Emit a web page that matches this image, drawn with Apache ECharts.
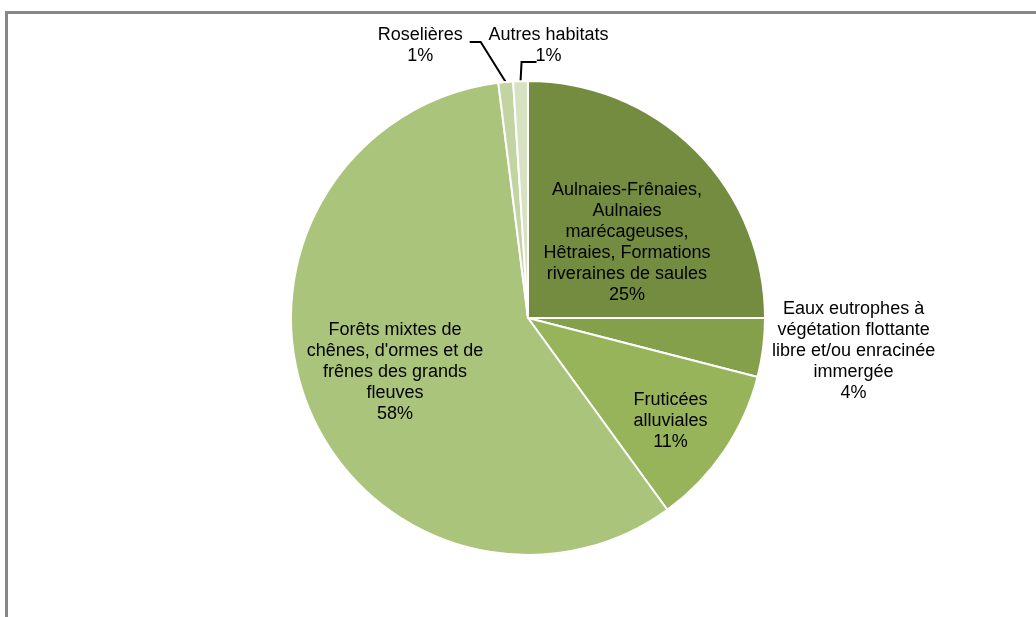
<!DOCTYPE html>
<html lang="fr">
<head>
<meta charset="utf-8">
<title>Répartition des habitats</title>
<script src="https://cdn.jsdelivr.net/npm/echarts@6/dist/echarts.min.js"></script>
<style>
  html, body { margin: 0; padding: 0; background: #ffffff; }
  #chart { width: 1036px; height: 617px; }
</style>
</head>
<body>
<div id="chart"></div>
<script>
// Habitat categories, in clockwise order from 12 o'clock
const habitats = [
  'Aulnaies-Frênaies,\nAulnaies\nmarécageuses,\nHêtraies, Formations\nriveraines de saules',
  'Eaux eutrophes à\nvégétation flottante\nlibre et/ou enracinée\nimmergée',
  'Fruticées\nalluviales',
  'Forêts mixtes de\nchênes, d\'ormes et de\nfrênes des grands\nfleuves',
  'Roselières',
  'Autres habitats'
];
// Share of each habitat (%)
const shares = [25, 4, 11, 58, 1, 1];
const sliceColors = ['#738C40', '#85A04B', '#98B45A', '#ABC47C', '#C2D4A2', '#D6E2C2'];

const chart = echarts.init(document.getElementById('chart'), null, { renderer: 'canvas' });

const textStyle = {
  color: '#000000',
  fontFamily: 'Liberation Sans, Arial, sans-serif',
  fontSize: 18,
  lineHeight: 21
};

// Per-slice label placement tweaks
function layoutLabel(p) {
  const r = p.labelRect;
  const cxL = r.x + r.width / 2;
  const cyL = r.y + r.height / 2;
  const pts = p.labelLinePoints;
  switch (p.dataIndex) {
    case 0: return { dx: 13, dy: 10 };
    case 2: return { dx: 42, dy: 35 };
    case 3: return { dx: -20, dy: 9 };
    case 1:
      // centred text block to the right of the slice
      return { x: cxL - 16, y: cyL + 2, align: 'center', verticalAlign: 'middle' };
    case 4: {
      if (!pts) return {};
      // leader runs up and to the left, then a short horizontal tail
      const s = pts[0];
      const bend = [s[0] - 25, s[1] - 40];
      const end = [bend[0] - 11, bend[1]];
      return {
        x: end[0] - 7 - r.width / 2, y: end[1] + 3,
        align: 'center', verticalAlign: 'middle',
        labelLinePoints: [s, bend, end]
      };
    }
    case 5: {
      if (!pts) return {};
      // leader goes straight up, then right; text sits above-right of it
      const s = pts[0];
      const bend = [s[0] + 1, s[1] - 19];
      const end = [bend[0] + 15, bend[1]];
      return {
        x: end[0] + 12, y: end[1] - 17,
        align: 'center', verticalAlign: 'middle',
        labelLinePoints: [s, bend, end]
      };
    }
    default: return {};
  }
}

const data = habitats.map(function (name, i) {
  const item = {
    name: name,
    value: shares[i],
    itemStyle: { color: sliceColors[i] }
  };
  if (i === 0 || i === 2 || i === 3) {
    item.label = { position: 'inside' };
    item.labelLine = { show: false };
  } else if (i === 1) {
    item.label = { position: 'outside' };
    item.labelLine = { show: false, length: 10, length2: 10 };
  } else {
    item.label = { position: 'outside' };
    item.labelLine = { show: true, length: 20, length2: 12 };
  }
  return item;
});

chart.setOption({
  animation: false,
  backgroundColor: '#ffffff',
  graphic: [{
    type: 'rect',
    shape: { x: 6.5, y: 12.5, width: 1100, height: 700 },
    style: { fill: 'none', stroke: '#868686', lineWidth: 3 },
    silent: true,
    z: -10
  }],
  series: [{
    type: 'pie',
    center: [528, 318],
    radius: [0, 237],
    startAngle: 90,
    clockwise: true,
    avoidLabelOverlap: false,
    percentPrecision: 0,
    itemStyle: { borderColor: '#ffffff', borderWidth: 2 },
    label: Object.assign({
      show: true,
      formatter: '{b}\n{d}%',
      align: 'center'
    }, textStyle),
    labelLine: {
      lineStyle: { color: '#000000', width: 2 },
      smooth: false
    },
    emphasis: { disabled: true },
    labelLayout: layoutLabel,
    data: data
  }]
});
</script>
</body>
</html>
